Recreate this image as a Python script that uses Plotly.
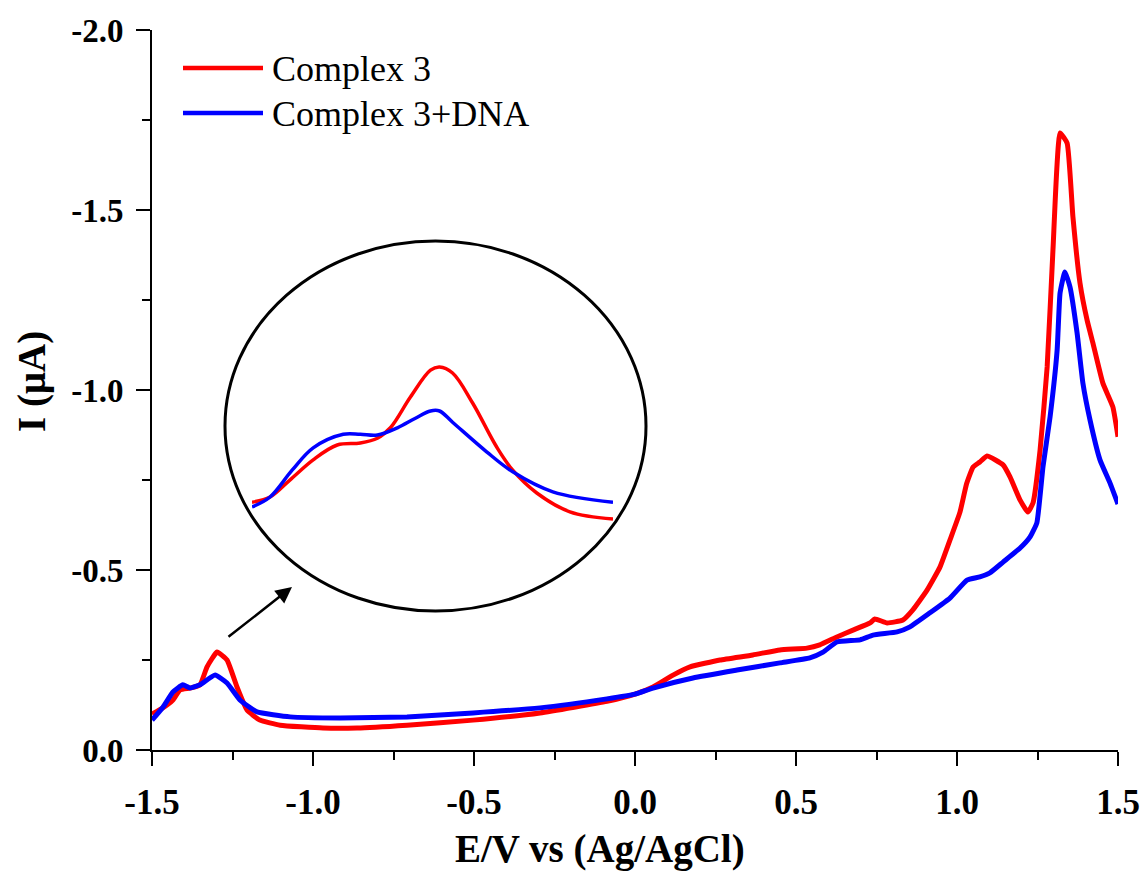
import plotly.graph_objects as go

# ---------------- data ----------------
series_names = ["Complex 3", "Complex 3+DNA"]
series_colors = ["#ff0000", "#0000ff"]

red_x = [-1.5, -1.47, -1.435, -1.413, -1.382, -1.351, -1.329, -1.298, -1.267, -1.236,
         -1.205, -1.165, -1.102, -0.969, -0.863, -0.708, -0.503, -0.295, -0.087, 0.0,
         0.056, 0.118, 0.171, 0.264, 0.366, 0.45, 0.534, 0.574, 0.627, 0.677,
         0.73, 0.745, 0.783, 0.832, 0.863, 0.907, 0.947, 0.978, 1.009, 1.03,
         1.05, 1.071, 1.093, 1.143, 1.165, 1.196, 1.22, 1.236, 1.258, 1.28,
         1.298, 1.32, 1.342, 1.36, 1.382, 1.404, 1.422, 1.453, 1.484, 1.5]
red_y = [-0.10, -0.115, -0.139, -0.167, -0.172, -0.181, -0.231, -0.272, -0.25, -0.175,
         -0.111, -0.083, -0.069, -0.061, -0.061, -0.069, -0.083, -0.103, -0.135, -0.155,
         -0.175, -0.208, -0.231, -0.25, -0.264, -0.278, -0.283, -0.292, -0.314, -0.333,
         -0.353, -0.364, -0.353, -0.361, -0.389, -0.444, -0.508, -0.583, -0.66, -0.74,
         -0.786, -0.80, -0.817, -0.792, -0.758, -0.694, -0.661, -0.686, -0.833, -1.064,
         -1.389, -1.714, -1.686, -1.481, -1.297, -1.194, -1.131, -1.019, -0.953, -0.87]

blue_x = [-1.5, -1.466, -1.435, -1.404, -1.382, -1.351, -1.304, -1.267, -1.227, -1.174,
          -1.071, -0.916, -0.708, -0.503, -0.295, -0.087, 0.0, 0.056, 0.18, 0.317,
          0.45, 0.543, 0.584, 0.627, 0.699, 0.739, 0.814, 0.854, 0.916, 0.978,
          1.031, 1.071, 1.102, 1.143, 1.196, 1.227, 1.248, 1.267, 1.289, 1.311,
          1.32, 1.335, 1.351, 1.373, 1.391, 1.413, 1.444, 1.475, 1.5]
blue_y = [-0.083, -0.119, -0.161, -0.181, -0.172, -0.181, -0.208, -0.186, -0.139, -0.106,
          -0.092, -0.089, -0.092, -0.103, -0.117, -0.142, -0.155, -0.172, -0.2, -0.222,
          -0.242, -0.256, -0.272, -0.3, -0.306, -0.319, -0.328, -0.342, -0.381, -0.422,
          -0.472, -0.481, -0.492, -0.522, -0.561, -0.592, -0.631, -0.786, -0.925, -1.111,
          -1.269, -1.328, -1.286, -1.158, -1.019, -0.917, -0.806, -0.742, -0.683]

# zoomed inset (region around -1.3 V)
inset_red_x = [-1.48, -1.462, -1.442, -1.419, -1.395, -1.372, -1.355, -1.342, -1.322, -1.302,
               -1.293, -1.28, -1.26, -1.236, -1.22, -1.196, -1.163, -1.12]
inset_red_y = [-0.101, -0.1075, -0.129, -0.154, -0.1725, -0.175, -0.181, -0.194, -0.2325, -0.266,
               -0.27, -0.2625, -0.225, -0.17, -0.141, -0.1125, -0.089, -0.08]
inset_blue_x = [-1.48, -1.462, -1.44, -1.419, -1.389, -1.372, -1.355, -1.335, -1.317, -1.302,
                -1.293, -1.28, -1.246, -1.22, -1.18, -1.12]
inset_blue_y = [-0.095, -0.1075, -0.141, -0.169, -0.186, -0.186, -0.185, -0.194, -0.206, -0.215,
                -0.215, -0.201, -0.164, -0.139, -0.114, -0.101]

x_tickvals = [-1.5, -1.0, -0.5, 0.0, 0.5, 1.0, 1.5]
x_ticktext = ["-1.5", "-1.0", "-0.5", "0.0", "0.5", "1.0", "1.5"]
y_tickvals = [0.0, -0.5, -1.0, -1.5, -2.0]
y_ticktext = ["0.0", "-0.5", "-1.0", "-1.5", "-2.0"]

x_title = "E/V vs (Ag/AgCl)"
y_title = "I (\u03bcA)"

# ---------------- figure ----------------
OFF = 8  # default page margin of the html body
W, H = 1148 - OFF, 874 - OFF          # figure fills the window to its right/bottom edge
L, T = 152 - OFF, 30 - OFF
R = (OFF + W) - 1118
B = (OFF + H) - 750
pw, ph = W - L - R, H - T - B


def px(xp):
    return (xp - OFF - L) / pw


def py(yp):
    return (H - B - (yp - OFF)) / ph


fig = go.Figure()
fig.add_trace(go.Scatter(x=red_x, y=red_y, mode="lines", name=series_names[0],
                         line=dict(color=series_colors[0], width=5, shape="spline", smoothing=0.4),
                         showlegend=False))
fig.add_trace(go.Scatter(x=blue_x, y=blue_y, mode="lines", name=series_names[1],
                         line=dict(color=series_colors[1], width=5, shape="spline", smoothing=0.4),
                         showlegend=False))
fig.add_trace(go.Scatter(x=inset_red_x, y=inset_red_y, mode="lines", xaxis="x2", yaxis="y2",
                         line=dict(color=series_colors[0], width=3.5, shape="spline"), showlegend=False))
fig.add_trace(go.Scatter(x=inset_blue_x, y=inset_blue_y, mode="lines", xaxis="x2", yaxis="y2",
                         line=dict(color=series_colors[1], width=3.5, shape="spline"), showlegend=False))

tick_font_x = dict(family="Liberation Serif", size=35, color="black", weight="bold")
tick_font_y = dict(family="Liberation Serif", size=33, color="black", weight="bold")

fig.update_layout(
    width=W, height=H,
    margin=dict(l=L, r=R, t=T, b=B, autoexpand=False),
    paper_bgcolor="white", plot_bgcolor="rgba(0,0,0,0)",
    xaxis=dict(range=[-1.5, 1.5], tickvals=x_tickvals, ticktext=x_ticktext, automargin=False,
               showline=True, linecolor="black", linewidth=2, mirror=False,
               ticks="outside", ticklen=14, tickwidth=2, tickcolor="black",
               minor=dict(ticks="outside", ticklen=8, tickwidth=2, tickcolor="black", dtick=0.25, tick0=0),
               showgrid=False, zeroline=False, tickfont=tick_font_x, ticklabelstandoff=6),
    yaxis=dict(range=[0.0, -2.0], tickvals=y_tickvals, ticktext=y_ticktext, automargin=False,
               showline=True, linecolor="black", linewidth=2, mirror=False,
               ticks="outside", ticklen=14, tickwidth=2, tickcolor="black",
               minor=dict(ticks="outside", ticklen=8, tickwidth=2, tickcolor="black", dtick=0.25, tick0=0),
               showgrid=False, zeroline=False, tickfont=tick_font_y, ticklabelstandoff=6),
    xaxis2=dict(domain=[px(252), px(613)], range=[-1.48, -1.12], visible=False, anchor="y2",
                automargin=False),
    yaxis2=dict(domain=[py(543), py(343)], range=[-0.05, -0.30], visible=False, anchor="x2",
                automargin=False),
)

# inset ellipse
fig.add_shape(type="circle", xref="paper", yref="paper",
              x0=px(225), x1=px(646), y0=py(611), y1=py(241),
              line=dict(color="black", width=3), layer="above")

# arrow pointing to inset
fig.add_annotation(xref="paper", yref="paper", x=px(292), y=py(587),
                   ax=-65, ay=51, showarrow=True, arrowhead=2, arrowsize=1.3,
                   arrowwidth=2.5, arrowcolor="black", text="")

# legend (manual)
legend_rows = [68, 113]
for name, color, yrow in zip(series_names, series_colors, legend_rows):
    fig.add_shape(type="line", xref="paper", yref="paper",
                  x0=px(183), x1=px(263), y0=py(yrow), y1=py(yrow),
                  line=dict(color=color, width=4.5))
    fig.add_annotation(xref="paper", yref="paper", x=px(270), y=py(yrow + 1),
                       xanchor="left", yanchor="middle", showarrow=False, text=name,
                       font=dict(family="Liberation Serif", size=36, color="black"))

# axis titles
fig.add_annotation(xref="paper", yref="paper", x=px(600), y=py(849),
                   xanchor="center", yanchor="middle", showarrow=False, text=x_title,
                   font=dict(family="Liberation Serif", size=39, color="black", weight="bold"))
fig.add_annotation(xref="paper", yref="paper", x=px(32), y=py(382),
                   xanchor="center", yanchor="middle", showarrow=False, text=y_title, textangle=-90,
                   font=dict(family="Liberation Serif", size=39, color="black", weight="bold"))

fig.write_html("out.html")
